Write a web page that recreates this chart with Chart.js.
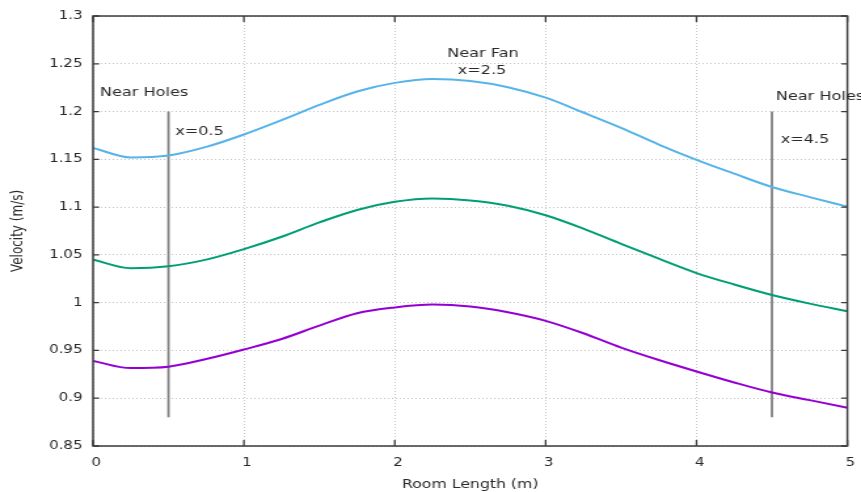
<!DOCTYPE html>
<html><head><meta charset="utf-8">
<script src="https://cdn.jsdelivr.net/npm/chart.js@4/dist/chart.umd.min.js"></script>
<style>html,body{margin:0;padding:0;background:#fff;overflow:hidden}
#c{display:block;width:861px;height:492px}</style>
</head><body>
<canvas id="c" width="657" height="492" style="width:861px;height:492px"></canvas>
<script>
// ---- data ----
const roomLength = [0,0.25,0.5,0.75,1,1.25,1.5,1.75,2,2.25,2.5,2.75,3,3.25,3.5,3.75,4,4.25,4.5,4.75,5];
const velocityTop    = [1.162,1.152,1.154,1.163,1.176,1.191,1.207,1.221,1.230,1.234,1.232,1.2255,1.2145,1.199,1.183,1.1655,1.1495,1.135,1.121,1.1105,1.1005];
const velocityMiddle = [1.045,1.036,1.038,1.045,1.056,1.069,1.084,1.097,1.1055,1.109,1.107,1.1015,1.0915,1.0775,1.0615,1.046,1.031,1.019,1.008,0.999,0.991];
const velocityBottom = [0.939,0.9315,0.933,0.941,0.951,0.962,0.976,0.989,0.995,0.998,0.996,0.990,0.981,0.968,0.953,0.940,0.928,0.9165,0.906,0.898,0.890];
const markerPositions = [0.5, 4.5];
const markerRange = [0.88, 1.2];
const xTickValues = [0,1,2,3,4,5];
const yTickValues = [0.85,0.9,0.95,1,1.05,1.1,1.15,1.2,1.25,1.3];
const noteTexts = ['Near Holes','x=0.5','Near Fan','x=2.5','Near Holes','x=4.5'];
const noteX = [0.046,0.544,2.347,2.417,4.526,4.558];
const noteY = [1.2195,1.179,1.2603,1.2428,1.2156,1.1703];

const FONT = "'DejaVu Sans', sans-serif";
const TEXT = '#2a2a2a';

const toPts = arr => roomLength.map((x,i)=>({x:x, y:arr[i]}));
const curve = (data,color)=>({data:toPts(data),borderColor:color,borderWidth:2,pointRadius:0,cubicInterpolationMode:'monotone',fill:false});
const markerSets = markerPositions.map(m=>({data:markerRange.map(v=>({x:m,y:v})),borderColor:'#808080',borderWidth:1.8,pointRadius:0,fill:false,tension:0}));

const framePlugin = {
  id:'frame',
  afterDatasetsDraw(chart){
    const {ctx, chartArea:a, scales:{x,y}} = chart;
    ctx.save();
    ctx.strokeStyle = '#3a3a3a';
    ctx.lineWidth = 1.5;
    ctx.strokeRect(a.left, a.top, a.right-a.left, a.bottom-a.top);
    ctx.lineWidth = 1.3;
    ctx.beginPath();
    xTickValues.forEach(v=>{const p=x.getPixelForValue(v);
      ctx.moveTo(p,a.bottom);ctx.lineTo(p,a.bottom-6);
      ctx.moveTo(p,a.top);ctx.lineTo(p,a.top+6);});
    yTickValues.forEach(v=>{const p=y.getPixelForValue(v);
      ctx.moveTo(a.left,p);ctx.lineTo(a.left+4.6,p);
      ctx.moveTo(a.right,p);ctx.lineTo(a.right-4.6,p);});
    ctx.stroke();
    ctx.restore();
  },
  afterDraw(chart){
    const {ctx, scales:{x,y}} = chart;
    ctx.save();
    ctx.fillStyle = TEXT;
    ctx.font = "12.3px " + FONT;
    ctx.textAlign = 'left';
    ctx.textBaseline = 'middle';
    noteTexts.forEach((t,i)=>ctx.fillText(t, x.getPixelForValue(noteX[i]), y.getPixelForValue(noteY[i])));
    ctx.restore();
  }
};

new Chart(document.getElementById('c'), {
  type:'line',
  data:{datasets:[
    curve(velocityTop,'#56B4E9'),
    curve(velocityMiddle,'#009E73'),
    curve(velocityBottom,'#9400D3'),
    ...markerSets
  ]},
  options:{
    responsive:false, devicePixelRatio:1, animation:false,
    layout:{padding:{left:0,right:10.4,top:16,bottom:0}},
    plugins:{legend:{display:false},tooltip:{enabled:false}},
    scales:{
      x:{type:'linear',min:0,max:5,
        afterFit:s=>{s.height=46;s.paddingLeft=0;s.paddingRight=0;},
        afterBuildTicks:s=>{s.ticks=xTickValues.map(v=>({value:v}));},
        ticks:{padding:10,labelOffset:2.4,color:TEXT,font:{family:FONT,size:11.5},callback:v=>String(v)},
        grid:{color:'rgba(150,150,150,0.55)',lineWidth:1,drawTicks:false},
        border:{display:false,dash:[1,2]},
        title:{display:true,text:'Room Length (m)',color:TEXT,font:{family:FONT,size:12},padding:{top:0,bottom:0}}},
      y:{type:'linear',min:0.85,max:1.3,
        afterFit:s=>{s.width=71;},
        afterBuildTicks:s=>{s.ticks=yTickValues.map(v=>({value:v}));},
        ticks:{padding:8,color:TEXT,font:{family:FONT,size:11.5},callback:v=>String(Math.round(v*100)/100)},
        grid:{color:'rgba(150,150,150,0.55)',lineWidth:1,drawTicks:false},
        border:{display:false,dash:[1,2]},
        title:{display:true,text:'Velocity (m/s)',color:TEXT,font:{family:FONT,size:12},padding:{top:7,bottom:0}}}
    }
  },
  plugins:[framePlugin]
});
</script>
</body></html>
